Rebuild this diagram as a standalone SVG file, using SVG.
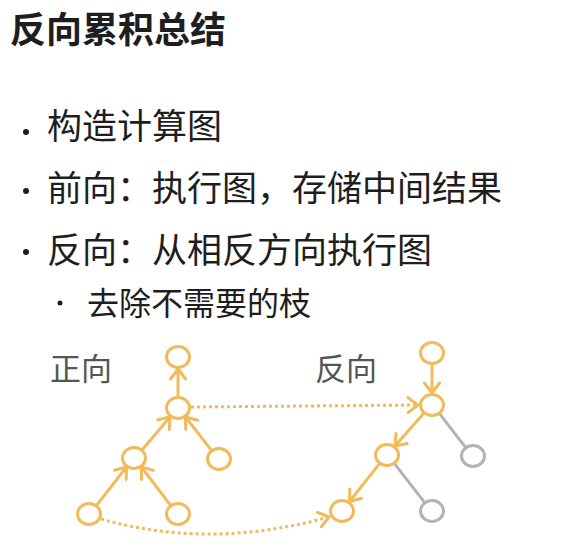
<svg xmlns="http://www.w3.org/2000/svg" width="574" height="554" viewBox="0 0 574 554">
<style>
.t{font-family:"Noto Sans CJK SC","Noto Sans",sans-serif;fill:#1e1e1e}
.lbl{font-family:"Noto Sans CJK SC","Noto Sans",sans-serif;fill:#555;font-size:31px}
.n{fill:#fff;stroke:#f0bb5a;stroke-width:3}
.g{fill:#fff;stroke:#b3b3b3;stroke-width:3}
.e{stroke:#f0bb5a;stroke-width:3;fill:none;marker-end:url(#ah)}
.ge{stroke:#b3b3b3;stroke-width:3;fill:none}
.d{stroke:#f0bb5a;stroke-width:3;fill:none;stroke-dasharray:3 3;marker-end:url(#ah)}
</style>
<defs>
<marker id="ah" markerUnits="userSpaceOnUse" markerWidth="18" markerHeight="18" refX="13" refY="9" orient="auto">
<path d="M3,1.5 L13,9 L3,16.5" fill="none" stroke="#f0bb5a" stroke-width="3" stroke-linecap="round" stroke-linejoin="round"/>
</marker>
</defs>
<rect width="574" height="554" fill="#fff"/>
<text class="t" x="10" y="43" font-size="36" font-weight="bold">反向累积总结</text>
<g id="bullets">
<circle cx="26" cy="132" r="3" fill="#1e1e1e"/>
<text class="t" x="47" y="139" font-size="35">构造计算图</text>
<circle cx="26" cy="191" r="3" fill="#1e1e1e"/>
<text class="t" x="47" y="201" font-size="35">前向：执行图，存储中间结果</text>
<circle cx="26" cy="252" r="3" fill="#1e1e1e"/>
<text class="t" x="47" y="263" font-size="35">反向：从相反方向执行图</text>
<circle cx="60" cy="303" r="2.5" fill="#1e1e1e"/>
<text class="t" x="87" y="315" font-size="32">去除不需要的枝</text>
</g>
<text class="lbl" x="50" y="380">正向</text>
<text class="lbl" x="315" y="380">反向</text>
<g id="connectors">
<line class="e" x1="178" y1="396" x2="178" y2="369"/>
<line class="e" x1="142" y1="450" x2="170" y2="417"/>
<line class="e" x1="211.5" y1="450.4" x2="185.5" y2="417"/>
<line class="e" x1="96.5" y1="505.4" x2="126.5" y2="467"/>
<line class="e" x1="170.6" y1="505.4" x2="141.4" y2="467"/>
<line class="e" x1="432" y1="364" x2="432" y2="393"/>
<line class="e" x1="424" y1="413" x2="395" y2="446"/>
<line class="e" x1="379.5" y1="463.6" x2="349.5" y2="501.5"/>
<line class="ge" x1="439.5" y1="413.6" x2="465.5" y2="447.4"/>
<line class="ge" x1="394.5" y1="463.6" x2="424.5" y2="502.4"/>
<line class="d" x1="191" y1="407" x2="418" y2="405"/>
<path class="d" d="M101,519 Q210,550 329,517"/>
</g>
<g id="f-top"><ellipse class="n" cx="178" cy="357" rx="11.5" ry="10.5"/></g>
<g id="f-mid"><ellipse class="n" cx="178" cy="408" rx="11.5" ry="10.5"/></g>
<g id="f-left"><ellipse class="n" cx="134" cy="458" rx="11.5" ry="10.5"/></g>
<g id="f-right"><ellipse class="n" cx="219" cy="459" rx="11.5" ry="10.5"/></g>
<g id="f-bl"><ellipse class="n" cx="89" cy="514" rx="11.5" ry="10.5"/></g>
<g id="f-bm"><ellipse class="n" cx="178" cy="514" rx="11.5" ry="10.5"/></g>
<g id="b-top"><ellipse class="n" cx="432" cy="353" rx="11.5" ry="10.5"/></g>
<g id="b-mid"><ellipse class="n" cx="432" cy="405" rx="11.5" ry="10.5"/></g>
<g id="b-left"><ellipse class="n" cx="387" cy="455" rx="11.5" ry="10.5"/></g>
<g id="b-right"><ellipse class="g" cx="473" cy="456" rx="11.5" ry="10.5"/></g>
<g id="b-bl"><ellipse class="n" cx="342" cy="511" rx="11.5" ry="10.5"/></g>
<g id="b-br"><ellipse class="g" cx="432" cy="511" rx="11.5" ry="10.5"/></g>
</svg>
